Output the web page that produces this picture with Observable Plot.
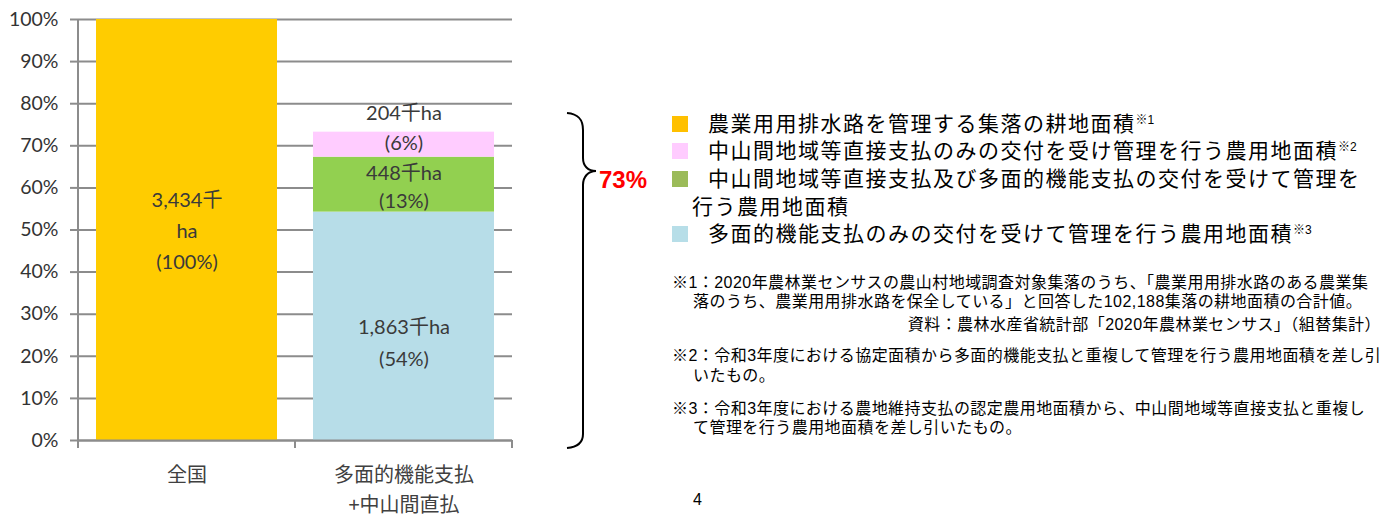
<!DOCTYPE html>
<html><head><meta charset="utf-8">
<script src="https://cdn.jsdelivr.net/npm/d3@7"></script>
<script src="https://cdn.jsdelivr.net/npm/@observablehq/plot@0.6"></script>
<style>
body{margin:0;background:#fff;}
#wrap{position:relative;width:1394px;height:517px;overflow:hidden;background:#fff;}
#chart{position:absolute;left:0;top:0;}
.abs{position:absolute;white-space:nowrap;}
.leg{font-family:"Liberation Sans","Noto Sans CJK JP",sans-serif;font-size:21px;letter-spacing:1.5px;color:#000;height:26px;line-height:26px;}
.leg sup{font-size:12px;vertical-align:7px;line-height:0;letter-spacing:0;}
.sw{position:absolute;width:16px;height:16px;}
.note{font-family:"Liberation Sans","Noto Sans CJK JP",sans-serif;font-size:16px;letter-spacing:0.45px;color:#000;height:18px;line-height:18px;}
</style></head><body>
<div id="wrap"><div id="chart"></div></div>
<script>
// ---- data ----
const categories = ["全国", "多面的機能支払\n+中山間直払"];
const seriesNames = [
  "農業用用排水路を管理する集落の耕地面積",
  "中山間地域等直接支払のみの交付を受け管理を行う農用地面積",
  "中山間地域等直接支払及び多面的機能支払の交付を受けて管理を行う農用地面積",
  "多面的機能支払のみの交付を受けて管理を行う農用地面積"
];
const seriesNotes = ["※1", "※2", "", "※3"];
const barColors = ["#FFCC00", "#FFCCFF", "#92D050", "#B7DDE8"];
const legendColors = ["#FFC000", "#FFCCFF", "#9BBB59", "#B7DEE8"];
// segments in stacking order (bottom to top within each bar)
const segCategory = ["全国", "多面的機能支払\n+中山間直払", "多面的機能支払\n+中山間直払", "多面的機能支払\n+中山間直払"];
const segSeries = [0, 3, 2, 1];
const segAreaThousandHa = [3434, 1863, 448, 204];
const segPercentLabel = [100, 54, 13, 6];
const yTicks = [0, 10, 20, 30, 40, 50, 60, 70, 80, 90, 100];
const footnotes = [
  "※1：2020年農林業センサスの農山村地域調査対象集落のうち、「農業用用排水路のある農業集",
  "落のうち、農業用用排水路を保全している」と回答した102,188集落の耕地面積の合計値。",
  "資料：農林水産省統計部「2020年農林業センサス」（組替集計）",
  "※2：令和3年度における協定面積から多面的機能支払と重複して管理を行う農用地面積を差し引",
  "いたもの。",
  "※3：令和3年度における農地維持支払の認定農用地面積から、中山間地域等直接支払と重複し",
  "て管理を行う農用地面積を差し引いたもの。"
];
const pageNumber = "4";

// ---- build rows ----
const total = segAreaThousandHa[0];
const fmt = d3.format(",");
const cum = {};
const rows = segCategory.map((c, i) => {
  const share = segAreaThousandHa[i] / total * 100;
  const y1 = cum[c] || 0, y2 = y1 + share; cum[c] = y2;
  const head = fmt(segAreaThousandHa[i]) + "千" + (c === categories[0] ? "\n" : "") + "ha";
  return {cat: c, series: seriesNames[segSeries[i]], share, mid: (y1 + y2) / 2,
          label: head + "\n(" + segPercentLabel[i] + "%)"};
});
const grey = "#8c8c8c";
const labelFont = "Lato, 'Noto Sans CJK JP', sans-serif";
const labelMark = (name, dy, lh) => Plot.text(rows.filter(r => r.series === name), {
  x: "cat", y: "mid", text: "label", dy, fontSize: 20, lineHeight: lh,
  fill: "#3a3a3a", fontFamily: labelFont
});

const plot = Plot.plot({
  width: 540, height: 517,
  marginLeft: 78, marginRight: 28, marginTop: 19, marginBottom: 77,
  x: {domain: categories, paddingInner: 0.166, paddingOuter: 0.083, axis: null},
  y: {domain: [0, 100]},
  color: {domain: seriesNames, range: barColors},
  style: {background: "transparent"},
  marks: [
    Plot.ruleY(yTicks, {stroke: grey, strokeWidth: 2}),
    Plot.axisY({ticks: yTicks, tickSize: 8, tickPadding: 12, stroke: grey, strokeWidth: 2,
      tickFormat: d => d + "%", fill: "#333", fontSize: 19.5, fontFamily: "Lato, sans-serif", label: null}),
    Plot.barY(rows, {x: "cat", y: "share", fill: "series"}),
    labelMark(seriesNames[0], -1.5, 1.55),
    labelMark(seriesNames[3], 13, 1.6),
    labelMark(seriesNames[2], 0, 1.4),
    labelMark(seriesNames[1], -19, 1.5),
    Plot.ruleY([0], {stroke: grey, strokeWidth: 2}),
    (index, scales, values, dim) => {
      const x0 = dim.marginLeft, x1 = dim.width - dim.marginRight, yb = dim.height - dim.marginBottom;
      const g = d3.create("svg:g").attr("stroke", grey).attr("stroke-width", 2);
      g.append("line").attr("x1", x0).attr("x2", x0).attr("y1", dim.marginTop).attr("y2", yb + 8);
      [(x0 + x1) / 2, x1].forEach(x => g.append("line").attr("x1", x).attr("x2", x).attr("y1", yb).attr("y2", yb + 8));
      return g.node();
    },
    Plot.text(categories, {x: d => d, frameAnchor: "bottom", lineAnchor: "top", dy: 20,
      lineHeight: 1.5, fontSize: 20, fill: "#404040", fontFamily: "'Noto Sans CJK JP', sans-serif"})
  ]
});
const wrap = document.getElementById("wrap");
document.getElementById("chart").appendChild(plot);

// ---- brace and total share ----
const ns = "http://www.w3.org/2000/svg";
const over = document.createElementNS(ns, "svg");
over.setAttribute("width", 1394); over.setAttribute("height", 517);
over.style.position = "absolute"; over.style.left = "0"; over.style.top = "0";
const br = document.createElementNS(ns, "path");
br.setAttribute("d", "M567,113 C579,114 583,120 583,130 L583,158 C583,166 588,171 596,171 C588,171 583,177 583,185 L583,434 C583,442 579,447 567,448");
br.setAttribute("fill", "none"); br.setAttribute("stroke", "#000"); br.setAttribute("stroke-width", 2);
over.appendChild(br);
wrap.appendChild(over);

const secondShare = rows.filter(r => r.cat === categories[1]).reduce((a, r) => a + r.share, 0);
const tot = document.createElement("div");
tot.className = "abs";
tot.textContent = Math.round(secondShare) + "%";
Object.assign(tot.style, {left: "599px", top: "166px", fontFamily: "'Liberation Sans Narrow','Liberation Sans',sans-serif",
  fontWeight: "bold", fontSize: "24px", color: "#FF0000", lineHeight: "28px"});
wrap.appendChild(tot);

// ---- legend ----
const legendCenters = [124, 151, 179, 234];
seriesNames.forEach((name, i) => {
  const sw = document.createElement("div");
  sw.className = "sw";
  sw.style.left = "672px"; sw.style.top = (legendCenters[i] - 8) + "px"; sw.style.background = legendColors[i];
  wrap.appendChild(sw);
  const t = document.createElement("div");
  t.className = "abs leg";
  t.style.left = "708px"; t.style.top = (legendCenters[i] - 13) + "px";
  if (i === 2) {
    t.textContent = "中山間地域等直接支払及び多面的機能支払の交付を受けて管理を";
    const t2 = document.createElement("div");
    t2.className = "abs leg";
    t2.style.left = "692px"; t2.style.top = (207 - 13) + "px";
    t2.textContent = "行う農用地面積";
    wrap.appendChild(t2);
  } else {
    t.innerHTML = name + (seriesNotes[i] ? "<sup>" + seriesNotes[i] + "</sup>" : "");
  }
  wrap.appendChild(t);
});

// ---- footnotes ----
const noteLeft = [672, 693, null, 672, 693, 672, 693];
const noteCenters = [283, 302, 325, 356, 376, 409, 428];
footnotes.forEach((s, i) => {
  const d = document.createElement("div");
  d.className = "abs note";
  d.textContent = s;
  d.style.top = (noteCenters[i] - 9) + "px";
  if (noteLeft[i] === null) d.style.right = (1394 - 1381) + "px";
  else d.style.left = noteLeft[i] + "px";
  wrap.appendChild(d);
});
const pg = document.createElement("div");
pg.className = "abs"; pg.textContent = pageNumber;
Object.assign(pg.style, {left: "693px", top: "490px", fontFamily: "'Liberation Sans',sans-serif", fontSize: "16px", lineHeight: "20px"});
wrap.appendChild(pg);
</script>
</body></html>
